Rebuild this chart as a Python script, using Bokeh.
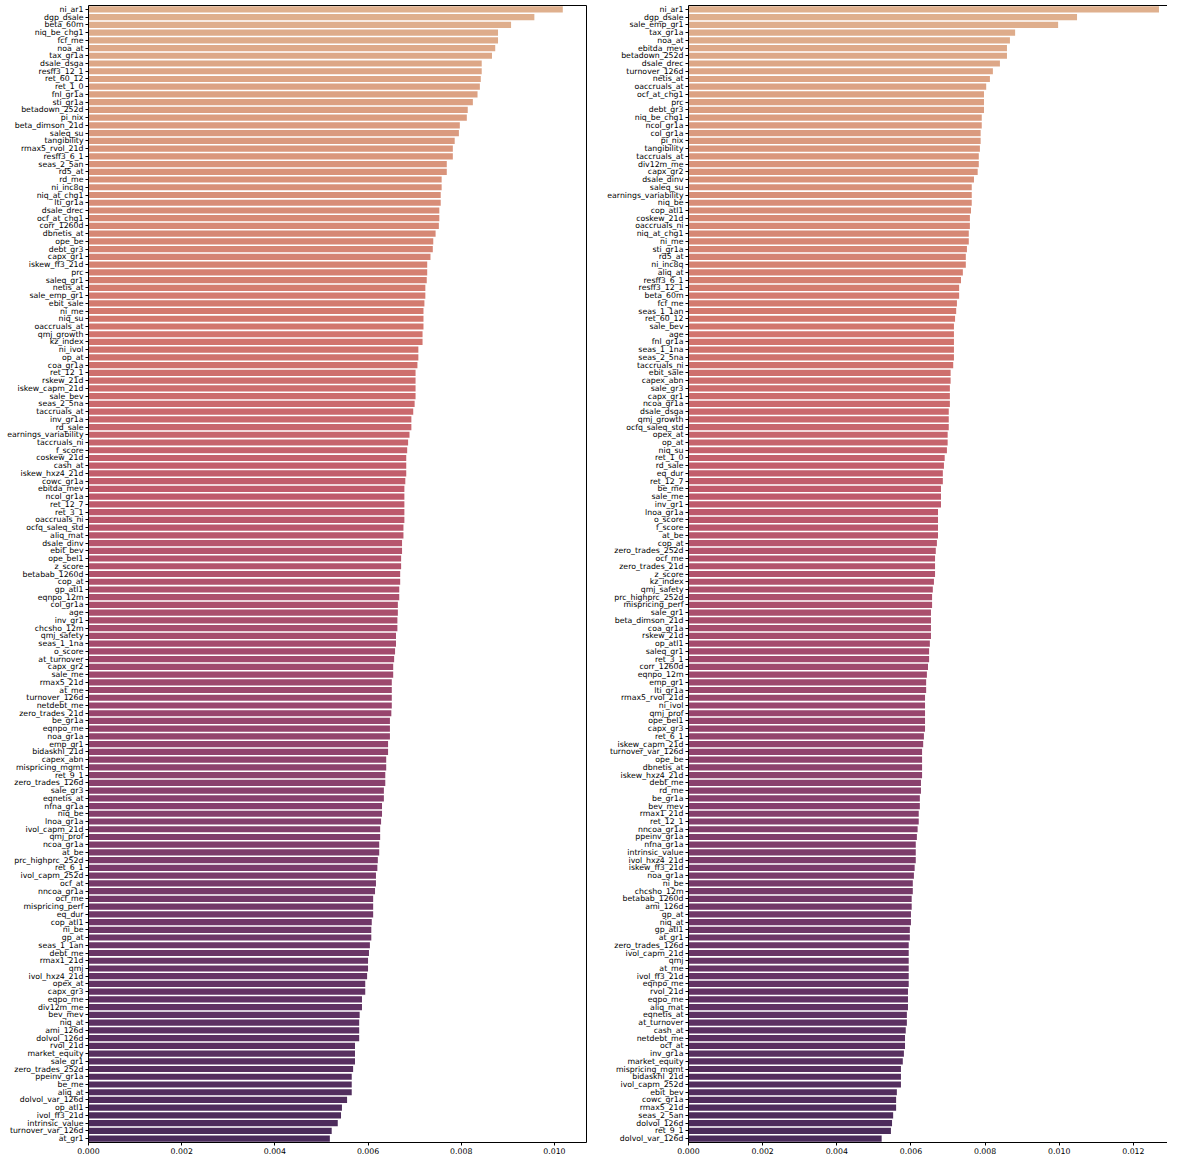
import colorsys
from bokeh.plotting import figure
from bokeh.models import (FactorRange, Range1d, FixedTicker, NumeralTickFormatter,
                          LinearAxis, ColumnDataSource)
from bokeh.layouts import row
from bokeh.embed import file_html
from bokeh.resources import INLINE

# ---------------- data ----------------
left_labels = [
    "ni_ar1", "dgp_dsale", "beta_60m", "niq_be_chg1", "fcf_me", "noa_at", "tax_gr1a", "dsale_dsga",
    "resff3_12_1", "ret_60_12", "ret_1_0", "fnl_gr1a", "sti_gr1a", "betadown_252d", "pi_nix",
    "beta_dimson_21d", "saleq_su", "tangibility", "rmax5_rvol_21d", "resff3_6_1", "seas_2_5an",
    "rd5_at", "rd_me", "ni_inc8q", "niq_at_chg1",
    "lti_gr1a", "dsale_drec", "ocf_at_chg1", "corr_1260d", "dbnetis_at", "ope_be", "debt_gr3",
    "capx_gr1", "iskew_ff3_21d", "prc", "saleq_gr1", "netis_at", "sale_emp_gr1", "ebit_sale",
    "ni_me", "niq_su", "oaccruals_at", "qmj_growth", "kz_index", "ni_ivol", "op_at", "coa_gr1a",
    "ret_12_1", "rskew_21d", "iskew_capm_21d",
    "sale_bev", "seas_2_5na", "taccruals_at", "inv_gr1a", "rd_sale", "earnings_variability",
    "taccruals_ni", "f_score", "coskew_21d", "cash_at", "iskew_hxz4_21d", "cowc_gr1a",
    "ebitda_mev", "ncol_gr1a", "ret_12_7", "ret_3_1", "oaccruals_ni", "ocfq_saleq_std",
    "aliq_mat", "dsale_dinv", "ebit_bev", "ope_bel1", "z_score", "betabab_1260d", "cop_at",
    "gp_atl1", "eqnpo_12m", "col_gr1a", "age", "inv_gr1", "chcsho_12m", "qmj_safety",
    "seas_1_1na", "o_score", "at_turnover", "capx_gr2", "sale_me", "rmax5_21d", "at_me",
    "turnover_126d", "netdebt_me", "zero_trades_21d", "be_gr1a", "eqnpo_me", "noa_gr1a",
    "emp_gr1", "bidaskhl_21d", "capex_abn", "mispricing_mgmt", "ret_9_1",
    "zero_trades_126d", "sale_gr3", "eqnetis_at", "nfna_gr1a", "niq_be", "lnoa_gr1a",
    "ivol_capm_21d", "qmj_prof", "ncoa_gr1a", "at_be", "prc_highprc_252d", "ret_6_1",
    "ivol_capm_252d", "ocf_at", "nncoa_gr1a", "ocf_me", "mispricing_perf", "eq_dur",
    "cop_atl1", "ni_be", "gp_at", "seas_1_1an", "debt_me", "rmax1_21d",
    "qmj", "ivol_hxz4_21d", "opex_at", "capx_gr3", "eqpo_me", "div12m_me", "bev_mev",
    "niq_at", "ami_126d", "dolvol_126d", "rvol_21d", "market_equity", "sale_gr1",
    "zero_trades_252d", "ppeinv_gr1a", "be_me", "aliq_at", "dolvol_var_126d", "op_atl1",
    "ivol_ff3_21d", "intrinsic_value", "turnover_var_126d", "at_gr1",
]
left_values = [
    0.01018, 0.00957, 0.00907, 0.00879, 0.00879, 0.00873, 0.00866, 0.00844,
    0.00844, 0.00842, 0.00840, 0.00835, 0.00825, 0.00814, 0.00812,
    0.00797, 0.00795, 0.00786, 0.00782, 0.00782, 0.00769,
    0.00769, 0.00758, 0.00758, 0.00756,
    0.00756, 0.00753, 0.00753, 0.00752, 0.00745, 0.00740, 0.00739,
    0.00734, 0.00727, 0.00727, 0.00726, 0.00723, 0.00723, 0.00721,
    0.00719, 0.00719, 0.00719, 0.00717, 0.00717, 0.00708, 0.00708, 0.00706,
    0.00702, 0.00702, 0.00702,
    0.00702, 0.00700, 0.00697, 0.00693, 0.00693, 0.00689,
    0.00686, 0.00684, 0.00682, 0.00682, 0.00682, 0.00680,
    0.00678, 0.00678, 0.00678, 0.00678, 0.00678, 0.00676,
    0.00676, 0.00673, 0.00673, 0.00671, 0.00671, 0.00669, 0.00669,
    0.00667, 0.00667, 0.00664, 0.00664, 0.00663, 0.00663, 0.00660,
    0.00660, 0.00658, 0.00656, 0.00654, 0.00654, 0.00651, 0.00651,
    0.00651, 0.00651, 0.00650, 0.00647, 0.00647, 0.00647,
    0.00643, 0.00643, 0.00639, 0.00639, 0.00637,
    0.00637, 0.00634, 0.00634, 0.00630, 0.00630, 0.00628,
    0.00626, 0.00626, 0.00624, 0.00624, 0.00621, 0.00620,
    0.00617, 0.00617, 0.00615, 0.00611, 0.00611, 0.00611,
    0.00608, 0.00607, 0.00607, 0.00604, 0.00602, 0.00600,
    0.00600, 0.00598, 0.00594, 0.00594, 0.00587, 0.00587, 0.00582,
    0.00581, 0.00581, 0.00581, 0.00572, 0.00572, 0.00572,
    0.00568, 0.00565, 0.00565, 0.00565, 0.00555, 0.00544,
    0.00542, 0.00535, 0.00522, 0.00518,
]

right_labels = [
    "ni_ar1", "dgp_dsale", "sale_emp_gr1", "tax_gr1a", "noa_at", "ebitda_mev", "betadown_252d",
    "dsale_drec", "turnover_126d", "netis_at", "oaccruals_at", "ocf_at_chg1", "prc", "debt_gr3",
    "niq_be_chg1", "ncol_gr1a", "col_gr1a", "pi_nix", "tangibility", "taccruals_at",
    "div12m_me", "capx_gr2", "dsale_dinv", "saleq_su", "earnings_variability",
    "niq_be", "cop_atl1", "coskew_21d", "oaccruals_ni", "niq_at_chg1", "ni_me", "sti_gr1a",
    "rd5_at", "ni_inc8q", "aliq_at", "resff3_6_1", "resff3_12_1", "beta_60m", "fcf_me",
    "seas_1_1an", "ret_60_12", "sale_bev", "age", "fnl_gr1a", "seas_1_1na", "seas_2_5na",
    "taccruals_ni", "ebit_sale", "capex_abn", "sale_gr3",
    "capx_gr1", "ncoa_gr1a", "dsale_dsga", "qmj_growth", "ocfq_saleq_std", "opex_at", "op_at",
    "niq_su", "ret_1_0", "rd_sale", "eq_dur", "ret_12_7", "be_me", "sale_me", "inv_gr1",
    "lnoa_gr1a", "o_score", "f_score", "at_be", "cop_at", "zero_trades_252d", "ocf_me",
    "zero_trades_21d", "z_score", "kz_index",
    "qmj_safety", "prc_highprc_252d", "mispricing_perf", "sale_gr1", "beta_dimson_21d",
    "coa_gr1a", "rskew_21d", "op_atl1", "saleq_gr1", "ret_3_1", "corr_1260d", "eqnpo_12m",
    "emp_gr1", "lti_gr1a", "rmax5_rvol_21d", "ni_ivol", "qmj_prof", "ope_bel1", "capx_gr3",
    "ret_6_1", "iskew_capm_21d", "turnover_var_126d", "ope_be", "dbnetis_at",
    "iskew_hxz4_21d", "debt_me", "rd_me", "be_gr1a", "bev_mev", "rmax1_21d", "ret_12_1",
    "nncoa_gr1a", "ppeinv_gr1a", "nfna_gr1a", "intrinsic_value", "ivol_hxz4_21d",
    "iskew_ff3_21d", "noa_gr1a", "ni_be", "chcsho_12m", "betabab_1260d", "ami_126d", "gp_at",
    "niq_at", "gp_atl1", "at_gr1", "zero_trades_126d", "ivol_capm_21d", "qmj",
    "at_me", "ivol_ff3_21d", "eqnpo_me", "rvol_21d", "eqpo_me", "aliq_mat", "eqnetis_at",
    "at_turnover", "cash_at", "netdebt_me", "ocf_at", "inv_gr1a", "market_equity",
    "mispricing_mgmt", "bidaskhl_21d", "ivol_capm_252d", "ebit_bev", "cowc_gr1a",
    "rmax5_21d", "seas_2_5an", "dolvol_126d", "ret_9_1", "dolvol_var_126d",
]
right_values = [
    0.01269, 0.01048, 0.00997, 0.00881, 0.00867, 0.00859, 0.00859,
    0.00840, 0.00821, 0.00813, 0.00803, 0.00797, 0.00797, 0.00797,
    0.00791, 0.00791, 0.00788, 0.00788, 0.00786, 0.00783,
    0.00783, 0.00780, 0.00770, 0.00764, 0.00764,
    0.00764, 0.00762, 0.00759, 0.00759, 0.00756, 0.00756, 0.00751,
    0.00748, 0.00748, 0.00740, 0.00735, 0.00730, 0.00730, 0.00724,
    0.00722, 0.00719, 0.00716, 0.00716, 0.00716, 0.00716, 0.00716,
    0.00714, 0.00707, 0.00707, 0.00705,
    0.00705, 0.00705, 0.00702, 0.00702, 0.00702, 0.00699, 0.00699,
    0.00697, 0.00691, 0.00689, 0.00686, 0.00686, 0.00681, 0.00681, 0.00681,
    0.00673, 0.00673, 0.00673, 0.00673, 0.00670, 0.00667, 0.00665,
    0.00665, 0.00665, 0.00662,
    0.00659, 0.00657, 0.00657, 0.00654, 0.00654,
    0.00654, 0.00654, 0.00651, 0.00649, 0.00649, 0.00646, 0.00643,
    0.00641, 0.00641, 0.00638, 0.00638, 0.00638, 0.00638, 0.00638,
    0.00635, 0.00633, 0.00630, 0.00630, 0.00630,
    0.00630, 0.00627, 0.00627, 0.00624, 0.00624, 0.00621, 0.00621,
    0.00618, 0.00616, 0.00613, 0.00613, 0.00613,
    0.00610, 0.00608, 0.00605, 0.00605, 0.00602, 0.00602, 0.00600,
    0.00600, 0.00597, 0.00597, 0.00594, 0.00594, 0.00594,
    0.00594, 0.00594, 0.00594, 0.00592, 0.00592, 0.00592, 0.00589,
    0.00589, 0.00586, 0.00584, 0.00584, 0.00581, 0.00578,
    0.00573, 0.00573, 0.00573, 0.00562, 0.00560,
    0.00560, 0.00552, 0.00549, 0.00546, 0.00521,
]

left_ticks = [0.0, 0.002, 0.004, 0.006, 0.008, 0.010]
right_ticks = [0.0, 0.002, 0.004, 0.006, 0.008, 0.010, 0.012]

# ---------------- style ----------------
FLARE = ["#edb081", "#e98d6b", "#e3685c", "#d14a61", "#b13c6b", "#8f3371", "#6c2b6d", "#4b2362"]
FONT = "DejaVu Sans"
FS = "7.8px"
H = 1156


def flare(n, sat=0.75):
    anchors = [tuple(int(h[i:i + 2], 16) / 255 for i in (1, 3, 5)) for h in FLARE]
    out = []
    for k in range(n):
        t = (k + 1) / (n + 1)
        pos = t * (len(anchors) - 1)
        i = min(int(pos), len(anchors) - 2)
        f = pos - i
        rgb = [a + (b - a) * f for a, b in zip(anchors[i], anchors[i + 1])]
        hh, ll, ss = colorsys.rgb_to_hls(*rgb)
        r, g, b = colorsys.hls_to_rgb(hh, ll, ss * sat)
        out.append("#%02x%02x%02x" % (round(r * 255), round(g * 255), round(b * 255)))
    return out


def blank_axis():
    ax = LinearAxis(ticker=FixedTicker(ticks=[]))
    ax.axis_line_color = "black"
    ax.axis_line_width = 1
    ax.major_tick_line_color = None
    ax.minor_tick_line_color = None
    ax.major_tick_out = 0
    ax.major_label_standoff = 0
    ax.major_label_text_font_size = "0px"
    return ax


def make(labels, values, xmax, ticks, width, min_left, min_right, right_spine):
    n = len(labels)
    src = ColumnDataSource(dict(label=labels, value=values, color=flare(n)))
    p = figure(y_range=FactorRange(factors=labels[::-1]), x_range=Range1d(0, xmax),
               width=width, height=H, output_backend="svg", toolbar_location=None,
               min_border_left=min_left, min_border_right=min_right,
               min_border_top=5, min_border_bottom=0)
    p.hbar(y="label", left=0, right="value", height=0.8, fill_color="color",
           line_color=None, source=src)
    p.outline_line_color = None
    p.xgrid.grid_line_color = None
    p.ygrid.grid_line_color = None
    p.background_fill_color = "white"
    p.border_fill_color = "white"

    for ax in (p.xaxis[0], p.yaxis[0]):
        ax.axis_line_color = "black"
        ax.axis_line_width = 1
        ax.major_tick_line_color = "black"
        ax.major_tick_out = 3
        ax.major_tick_in = 0
        ax.minor_tick_line_color = None
        ax.major_label_text_font = FONT
        ax.major_label_text_font_size = FS
        ax.major_label_text_color = "black"
        ax.major_label_standoff = 2
    p.xaxis.ticker = FixedTicker(ticks=ticks)
    p.xaxis.formatter = NumeralTickFormatter(format="0.000")

    p.add_layout(blank_axis(), "above")
    if right_spine:
        p.add_layout(blank_axis(), "right")
    return p


p1 = make(left_labels, left_values, max(left_values) * 1.05, left_ticks,
          width=596, min_left=88, min_right=10, right_spine=True)
p2 = make(right_labels, right_values, 0.01292, right_ticks,
          width=571, min_left=92, min_right=0, right_spine=False)

layout = row(p1, p2)
open("out.html", "w").write(file_html(layout, INLINE))
